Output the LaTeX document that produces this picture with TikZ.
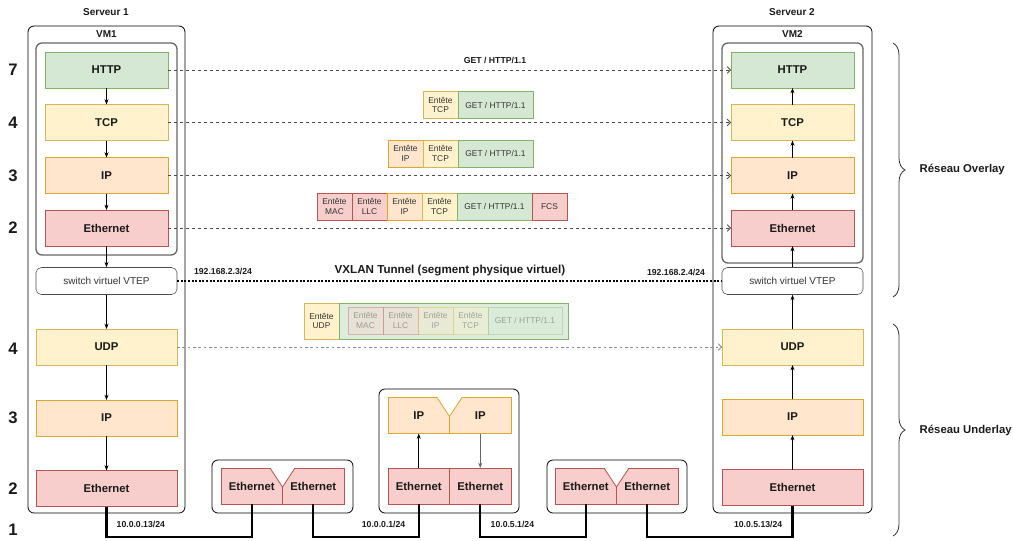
\documentclass[tikz,border=0pt]{standalone}
\usepackage{fontspec}
\setmainfont{Liberation Sans}
\usepackage{tikz}
\usetikzlibrary{positioning, arrows.meta, calc, decorations.pathreplacing}
\definecolor{httpfill}{HTML}{D5E8D4}
\definecolor{httpline}{HTML}{82B366}
\definecolor{tcpfill}{HTML}{FFF2CC}
\definecolor{tcpline}{HTML}{D6B656}
\definecolor{ipfill}{HTML}{FFE6CC}
\definecolor{ipline}{HTML}{DDA62C}
\definecolor{ethfill}{HTML}{F8CECC}
\definecolor{ethline}{HTML}{B85450}
\definecolor{ink}{HTML}{1A1A1A}

\begin{document}
\begin{tikzpicture}[x=0.75pt, y=-0.75pt, >=Stealth, text=ink,
    layer/.style={draw, minimum height=27pt, inner sep=0pt, outer sep=0pt, font=\bfseries\fontsize{8.5}{10}\selectfont},
    vmlayer/.style={layer, minimum width=92.25pt},
    hostlayer/.style={layer, minimum width=105.75pt},
    half/.style={layer, minimum width=46.125pt},
    http/.style={fill=httpfill, draw=httpline},
    tcp/.style={fill=tcpfill, draw=tcpline},
    ip/.style={fill=ipfill, draw=ipline},
    eth/.style={fill=ethfill, draw=ethline},
    box/.style={draw, rounded corners=4.5pt, line width=0.6pt},
    vmbox/.style={draw=black!60, rounded corners=4.5pt, line width=1pt},
    vtep/.style={draw=black!70, rounded corners=4pt, fill=white, minimum width=105.75pt, minimum height=20.25pt,
      font=\fontsize{7.5}{9}\selectfont, text=black!80},
    hdr/.style={draw, minimum width=26.25pt, minimum height=20.25pt, inner sep=0pt, outer sep=0pt, align=center,
      font=\fontsize{6.3}{7.2}\selectfont, text=black!80},
    payload/.style={hdr, minimum width=56.25pt, http},
    faded/.style={draw opacity=0.35, fill opacity=0.35, text opacity=0.4},
    flow/.style={->, >={Stealth[length=4pt, width=3pt]}, line width=0.6pt},
    peer/.style={->, >={Straight Barb[length=2.5pt, width=5pt]}, dash pattern=on 2.5pt off 2pt, draw=black!70, line width=0.6pt},
    tunnel/.style={dash pattern=on 1.5pt off 1.2pt, line width=1.6pt},
    cable/.style={line width=1.8pt},
    num/.style={font=\bfseries\fontsize{12.5}{14}\selectfont},
    title/.style={font=\bfseries\fontsize{7.5}{9}\selectfont},
    addr/.style={font=\bfseries\fontsize{6.5}{7.5}\selectfont},
    side/.style={font=\bfseries\fontsize{8.5}{10}\selectfont, anchor=west},
    brace/.style={decorate, decoration={brace, amplitude=9pt}, line width=0.6pt, draw=black!80}]
  \useasboundingbox (0,0) rectangle (1013,540);

  % Layer numbers
  \node[num] (lvl7)  at (13,70)  {7};
  \node[num] (lvl4a) at (13,123) {4};
  \node[num] (lvl3a) at (13,176) {3};
  \node[num] (lvl2a) at (13,228) {2};
  \node[num] (lvl4b) at (13,349) {4};
  \node[num] (lvl3b) at (13,418) {3};
  \node[num] (lvl2b) at (13,489) {2};
  \node[num] (lvl1)  at (13,530) {1};

  % Serveur 1
  \node[title] (srv1lbl) at (106,12) {Serveur 1};
  \node[box, minimum width=117.75pt, minimum height=365.25pt] (srv1) at (106.5,269.5) {};
  \node[title] (vm1lbl) at (106.5,34) {VM1};
  \node[vmbox, minimum width=105.75pt, minimum height=159pt] (vm1) at (106.5,149) {};
  \node[vmlayer, http] (http1)  at (106.5,70)    {HTTP};
  \node[vmlayer, tcp]  (tcp1)   at (106.5,122.5) {TCP};
  \node[vmlayer, ip]   (ip1)    at (106.5,175.5) {IP};
  \node[vmlayer, eth]  (ethvm1) at (106.5,228)   {Ethernet};
  \node[vtep] (vtep1) at (106.5,281) {switch virtuel VTEP};
  \node[hostlayer, tcp] (udp1) at (106.5,347)   {UDP};
  \node[hostlayer, ip]  (ipu1) at (106.5,418)   {IP};
  \node[hostlayer, eth] (ethu1) at (106.5,488.5) {Ethernet};
  \draw[flow] (http1) -- (tcp1);
  \draw[flow] (tcp1) -- (ip1);
  \draw[flow] (ip1) -- (ethvm1);
  \draw[flow] (ethvm1) -- (vtep1);
  \draw[flow] (vtep1) -- (udp1);
  \draw[flow] (udp1) -- (ipu1);
  \draw[flow] (ipu1) -- (ethu1);

  % Serveur 2
  \node[title] (srv2lbl) at (792,12) {Serveur 2};
  \node[box, minimum width=119.25pt, minimum height=365.25pt] (srv2) at (792.5,269.5) {};
  \node[title] (vm2lbl) at (792.5,34) {VM2};
  \node[vmbox, minimum width=105.75pt, minimum height=165pt] (vm2) at (792.5,153) {};
  \node[vmlayer, http] (http2)  at (792.5,70)    {HTTP};
  \node[vmlayer, tcp]  (tcp2)   at (792.5,122.5) {TCP};
  \node[vmlayer, ip]   (ip2)    at (792.5,175.5) {IP};
  \node[vmlayer, eth]  (ethvm2) at (792.5,228)   {Ethernet};
  \node[vtep] (vtep2) at (792.5,281) {switch virtuel VTEP};
  \node[hostlayer, tcp] (udp2) at (792.5,347)   {UDP};
  \node[hostlayer, ip]  (ipu2) at (792.5,417)   {IP};
  \node[hostlayer, eth] (ethu2) at (792.5,487.5) {Ethernet};
  \draw[flow] (ethu2) -- (ipu2);
  \draw[flow] (ipu2) -- (udp2);
  \draw[flow] (udp2) -- (vtep2);
  \draw[flow] (vtep2) -- (ethvm2);
  \draw[flow] (ethvm2) -- (ip2);
  \draw[flow] (ip2) -- (tcp2);
  \draw[flow] (tcp2) -- (http2);

  % Peer to peer exchanges
  \draw[peer] (http1) -- (http2);
  \draw[peer] (tcp1) -- (tcp2);
  \draw[peer] (ip1) -- (ip2);
  \draw[peer] (ethvm1) -- (ethvm2);
  \draw[peer, draw=black!45, dash pattern=on 2pt off 2pt] (udp1) -- (udp2);
  \draw[tunnel] (vtep1) -- (vtep2);
  \node[addr] (vtepaddr1) at (223,271) {192.168.2.3/24};
  \node[addr] (vtepaddr2) at (676,272) {192.168.2.4/24};
  \node[font=\bfseries\fontsize{8.7}{10}\selectfont] (vxlan) at (450,271) {VXLAN Tunnel (segment physique virtuel)};

  % Packets
  \node[addr] (getlbl) at (495,60) {GET / HTTP/1.1};
  \node[hdr, tcp] (tcphdrA) at (440.5,105) {Entête\\TCP};
  \node[payload, right=0pt of tcphdrA] (getA) {GET / HTTP/1.1};
  \node[hdr, ip] (iphdrB) at (405.5,153.5) {Entête\\IP};
  \node[hdr, tcp, right=0pt of iphdrB] (tcphdrB) {Entête\\TCP};
  \node[payload, right=0pt of tcphdrB] (getB) {GET / HTTP/1.1};
  \node[hdr, eth] (machdrC) at (334.5,206.5) {Entête\\MAC};
  \node[hdr, eth, right=0pt of machdrC] (llchdrC) {Entête\\LLC};
  \node[hdr, ip, right=0pt of llchdrC] (iphdrC) {Entête\\IP};
  \node[hdr, tcp, right=0pt of iphdrC] (tcphdrC) {Entête\\TCP};
  \node[payload, right=0pt of tcphdrC] (getC) {GET / HTTP/1.1};
  \node[hdr, eth, right=0pt of getC] (fcsC) {FCS};
  \node[hdr, tcp, minimum height=27pt] (udphdrD) at (321.5,321) {Entête\\UDP};
  \node[http, draw, fill opacity=0.8, minimum width=171.75pt, minimum height=27pt, inner sep=0pt, outer sep=0pt, right=0pt of udphdrD] (payD) {};
  \node[hdr, eth, faded] (machdrD) at (365.5,320.5) {Entête\\MAC};
  \node[hdr, eth, faded, right=0pt of machdrD] (llchdrD) {Entête\\LLC};
  \node[hdr, ip, faded, right=0pt of llchdrD] (iphdrD) {Entête\\IP};
  \node[hdr, tcp, faded, right=0pt of iphdrD] (tcphdrD) {Entête\\TCP};
  \node[payload, faded, minimum width=55.5pt, right=0pt of tcphdrD] (getD) {GET / HTTP/1.1};

  % Switch A
  \node[box, minimum width=105.75pt, minimum height=39.75pt] (swA) at (282.5,486.5) {};
  \node[half, eth] (ethsa1) at (251.75,486) {Ethernet};
  \node[half, eth, right=0pt of ethsa1] (ethsa2) {Ethernet};
  \fill[white] ($(ethsa1.north east)+(-12.5,-0.8)$) -- ($(ethsa1.north east)+(0,19)$) -- ($(ethsa1.north east)+(12.5,-0.8)$) -- cycle;
  \draw[ethline, line width=0.6pt] ($(ethsa1.north east)+(-12.5,0)$) -- ($(ethsa1.north east)+(0,19)$) -- ($(ethsa1.north east)+(12.5,0)$);
  \draw[ethline, line width=0.6pt] ($(ethsa1.north east)+(0,19)$) -- (ethsa1.south east);

  % Routeur
  \node[box, minimum width=105pt, minimum height=93pt] (rtr) at (449,451) {};
  \node[half, ip] (ipr1) at (418.75,415.5) {IP};
  \node[half, ip, right=0pt of ipr1] (ipr2) {IP};
  \node[half, eth] (ethr1) at (418.75,486) {Ethernet};
  \node[half, eth, right=0pt of ethr1] (ethr2) {Ethernet};
  \fill[white] ($(ipr1.north east)+(-12.5,-0.8)$) -- ($(ipr1.north east)+(0,19)$) -- ($(ipr1.north east)+(12.5,-0.8)$) -- cycle;
  \draw[ipline, line width=0.6pt] ($(ipr1.north east)+(-12.5,0)$) -- ($(ipr1.north east)+(0,19)$) -- ($(ipr1.north east)+(12.5,0)$);
  \draw[ipline, line width=0.6pt] ($(ipr1.north east)+(0,19)$) -- (ipr1.south east);
  \draw[flow] (ethr1) -- (ipr1);
  \draw[flow, black!60] (ipr2) -- (ethr2);

  % Switch B
  \node[box, minimum width=105pt, minimum height=39.75pt] (swB) at (617,486.5) {};
  \node[half, eth] (ethsb1) at (585.75,486) {Ethernet};
  \node[half, eth, right=0pt of ethsb1] (ethsb2) {Ethernet};
  \fill[white] ($(ethsb1.north east)+(-12.5,-0.8)$) -- ($(ethsb1.north east)+(0,19)$) -- ($(ethsb1.north east)+(12.5,-0.8)$) -- cycle;
  \draw[ethline, line width=0.6pt] ($(ethsb1.north east)+(-12.5,0)$) -- ($(ethsb1.north east)+(0,19)$) -- ($(ethsb1.north east)+(12.5,0)$);
  \draw[ethline, line width=0.6pt] ($(ethsb1.north east)+(0,19)$) -- (ethsb1.south east);

  % Physical cables
  \coordinate (bus) at (0,537);
  \draw[cable] (ethu1.south) -- (ethu1.south |- bus) -| (ethsa1.south);
  \draw[cable] (ethsa2.south) -- (ethsa2.south |- bus) -| (ethr1.south);
  \draw[cable] (ethr2.south) -- (ethr2.south |- bus) -| (ethsb1.south);
  \draw[cable] (ethsb2.south) -- (ethsb2.south |- bus) -| (ethu2.south);
  \node[addr, anchor=west] (addr1) at (112,524) {10.0.0.13/24};
  \node[addr, anchor=east] (addr2) at (410,524) {10.0.0.1/24};
  \node[addr, anchor=west] (addr3) at (486,524) {10.0.5.1/24};
  \node[addr, anchor=east] (addr4) at (787,524) {10.0.5.13/24};

  % Overlay / underlay
  \draw[brace] (893,43) -- (893,297);
  \node[side] (overlay) at (915,170) {Réseau Overlay};
  \draw[brace] (893,324) -- (893,536);
  \node[side] (underlay) at (915,431) {Réseau Underlay};
\end{tikzpicture}
\end{document}
